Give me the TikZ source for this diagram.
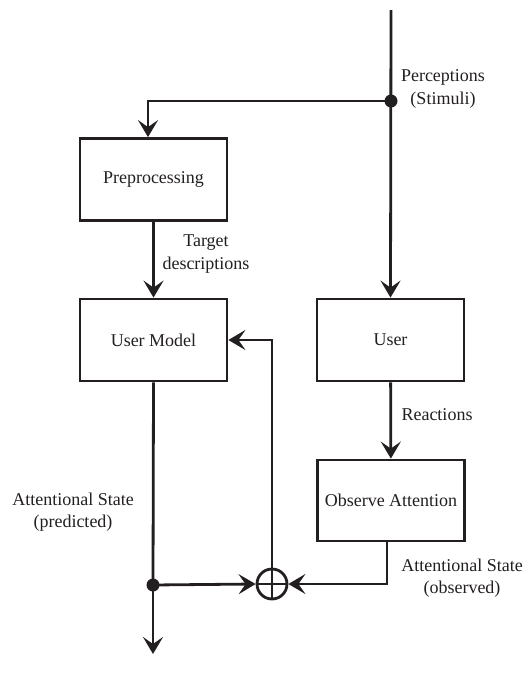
\documentclass[tikz,border=0pt]{standalone}
\usepackage{fontspec}
\setmainfont{Liberation Serif}
\usetikzlibrary{arrows.meta,calc}
\definecolor{ink}{HTML}{231F20}
\begin{document}
\begin{tikzpicture}[x=1pt,y=-1pt,
  font=\fontsize{18}{22.5}\selectfont,
  box/.style={draw=ink,line width=2.8pt,minimum width=147pt,minimum height=82pt,inner sep=0pt,text=ink},
  conn/.style={draw=ink,line width=2.8pt},
  arr/.style={conn,-{Stealth[length=17pt,width=20pt,inset=7pt]}},
  lbl/.style={align=center,text=ink,inner sep=0pt},
  dot/.style={circle,fill=ink,minimum size=13pt,inner sep=0pt}
]
\useasboundingbox (0,0) rectangle (531,673);
\node[box] (pre) at (153.5,179.5) {Preprocessing};
\node[box] (um) at (153.5,340) {User Model};
\node[box] (user) at (390.5,340) {User};
\node[box,minimum height=81pt] (obs) at (391,500.5) {Observe Attention};
\node[circle,draw=ink,line width=2.8pt,minimum size=30pt,inner sep=0pt] (plus) at (272,584) {};
\draw[conn,line width=2.4pt] (plus.north) -- (plus.south) (plus.west) -- (plus.east);

\coordinate (top) at (391,10);
\node[dot] (split) at (391,101) {};
\node[dot] (split2) at (153,585) {};
\coordinate (preIn) at ($(pre.north)+(-5.5,0)$);
\coordinate (obsOut) at ($(obs.south)+(-4,0)$);
\coordinate (endpt) at (153,654);

\draw[arr] (top) -- (user.north);
\draw[arr] (split.center) -| (preIn);
\draw[arr] (pre) -- (um);
\draw[arr] (user) -- (obs);
\draw[arr] (obsOut) |- (plus.east);
\draw[conn] (um.south) -- (split2.center);
\draw[arr] (split2.center) -- (plus.west);
\draw[arr] (split2.center) -- (endpt);
\draw[arr] (plus.north) |- (um.east);

\node[lbl] (perc) at (443,89) {Perceptions\\(Stimuli)};
\node[lbl] (targ) at (206,254) {Target\\descriptions};
\node[lbl] (react) at (437,415) {Reactions};
\node[lbl] (pred) at (73,512) {Attentional State\\(predicted)};
\node[lbl] (obsv) at (462,578) {Attentional State\\(observed)};
\end{tikzpicture}
\end{document}
